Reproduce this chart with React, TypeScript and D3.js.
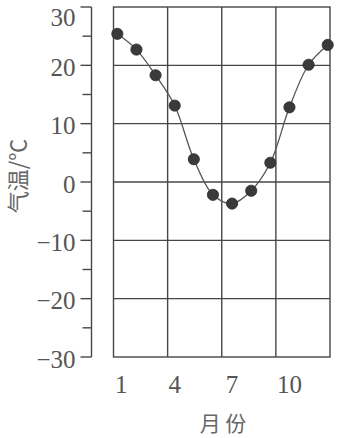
import React from "react";
import * as d3 from "d3";

const months = [1, 2, 3, 4, 5, 6, 7, 8, 9, 10, 11, 12];
const temps = [25.4, 22.7, 18.3, 13.1, 3.9, -2.2, -3.7, -1.5, 3.3, 12.8, 20.1, 23.5];
const xTickLabels = [1, 4, 7, 10];
const yMajorTicks = [30, 20, 10, 0, -10, -20, -30];
const yMinorTicks = [25, 15, 5, -5, -15, -25];
const gridRows = [20, 10, 0, -10, -20];
const gridColumns = 4;
const xTitle = "月 份";
const yTitle = "气温/℃";

const W = 337;
const H = 438;

export default function App() {
  const x = d3.scaleLinear().domain([0.8, 12.12]).range([113.5, 330]);
  const y = d3.scaleLinear().domain([-30, 30]).range([357, 7]);
  const axisX = 91.5;
  const [x0, x1] = x.range();
  const colXs = d3.range(1, gridColumns).map((i) => x0 + ((x1 - x0) * i) / gridColumns);

  const line = d3
    .line<number>()
    .x((_, i) => x(months[i]))
    .y((d) => y(d))
    .curve(d3.curveCatmullRom.alpha(0.5));

  const ink = "#474747";
  const serifFamily = "Liberation Serif, Times New Roman, Times, Noto Serif, DejaVu Serif, serif";
  const cjkFamily = "Noto Sans CJK SC, sans-serif";

  return (
    <svg
      width={W}
      height={H}
      style={{ position: "absolute", left: 0, top: 0, background: "#fff" }}
    >
      <rect
        x={x0}
        y={y(30)}
        width={x1 - x0}
        height={y(-30) - y(30)}
        fill="none"
        stroke={ink}
        strokeWidth={1.4}
      />
      {gridRows.map((v) => (
        <line key={"r" + v} x1={x0} x2={x1} y1={y(v)} y2={y(v)} stroke={ink} strokeWidth={1.4} />
      ))}
      {colXs.map((cx, i) => (
        <line key={"c" + i} x1={cx} x2={cx} y1={y(30)} y2={y(-30)} stroke={ink} strokeWidth={1.4} />
      ))}

      <line x1={axisX} x2={axisX} y1={y(30)} y2={y(-30)} stroke={ink} strokeWidth={1.4} />
      {yMajorTicks.map((v) => (
        <g key={"mt" + v}>
          <line x1={axisX - 11} x2={axisX} y1={y(v)} y2={y(v)} stroke={ink} strokeWidth={1.4} />
          <text
            x={axisX - 16}
            y={Math.max(y(v) + 2, 17)}
            textAnchor="end"
            dominantBaseline="central"
            fontFamily={serifFamily}
            fontSize={25}
            fill="#555"
          >
            {v < 0 ? "\u2212" + Math.abs(v) : String(v)}
          </text>
        </g>
      ))}
      {yMinorTicks.map((v) => (
        <line key={"mn" + v} x1={axisX - 9} x2={axisX} y1={y(v)} y2={y(v)} stroke={ink} strokeWidth={1.4} />
      ))}

      {xTickLabels.map((m) => (
        <text
          key={"xl" + m}
          x={x(m) + (m === 1 ? 4 : 0)}
          y={384}
          textAnchor="middle"
          dominantBaseline="central"
          fontFamily={serifFamily}
          fontSize={25}
          fill="#555"
        >
          {m}
        </text>
      ))}

      <text
        x={223}
        y={422}
        textAnchor="middle"
        dominantBaseline="central"
        fontFamily={cjkFamily}
        fontSize={21}
        fill="#666"
      >
        {xTitle}
      </text>
      <text
        transform={`translate(16,176) rotate(-90)`}
        textAnchor="middle"
        dominantBaseline="central"
        fontFamily={cjkFamily}
        fontSize={22}
        fill="#666"
      >
        {yTitle}
      </text>

      <path d={line(temps) || ""} fill="none" stroke="#555" strokeWidth={1.3} />
      {temps.map((t, i) => (
        <circle
          key={"p" + i}
          cx={x(months[i])}
          cy={y(t)}
          r={5.6}
          fill="#3a3a3a"
          stroke="#2a2a2a"
          strokeWidth={0.8}
        />
      ))}
    </svg>
  );
}
